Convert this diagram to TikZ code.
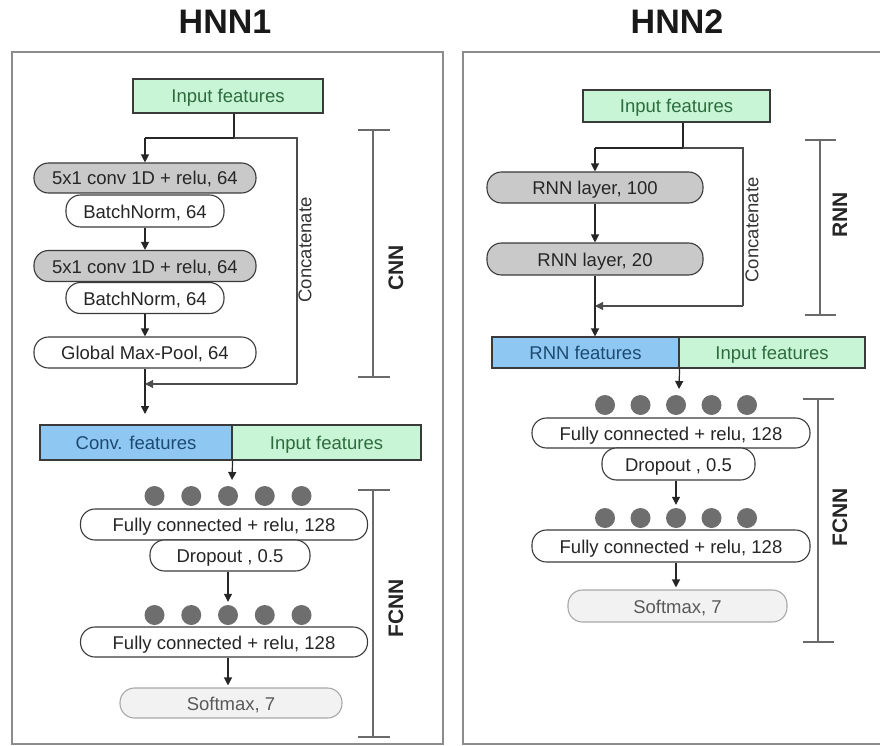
\documentclass[tikz,border=0pt]{standalone}
\usepackage{fontspec}
\setmainfont{Liberation Sans}
\usetikzlibrary{arrows.meta}
\definecolor{edge}{HTML}{3A3A3A}
\definecolor{pillgray}{HTML}{C9C9C9}
\definecolor{mint}{HTML}{C8F5D6}
\definecolor{sky}{HTML}{8EC8F2}
\definecolor{mintText}{HTML}{2E6B3E}
\definecolor{skyText}{HTML}{1C4A72}
\definecolor{dotgray}{HTML}{6E6E6E}
\definecolor{framegray}{HTML}{8C8C8C}
\definecolor{bracketgray}{HTML}{6A6A6A}
\definecolor{smgray}{HTML}{F2F2F2}
\definecolor{smedge}{HTML}{A8A8A8}
\begin{document}
\begin{tikzpicture}[x=1pt,y=-1pt,
 base/.style={font=\fontsize{18.5}{20}\selectfont, inner sep=0pt, line width=1.1pt, text height=14pt, text depth=0pt},
 pill/.style={base, draw=edge, fill=white, rounded corners=14.5pt, text=black!85},
 graypill/.style={pill, fill=pillgray},
 smpill/.style={base, draw=smedge, fill=smgray, rounded corners=14.5pt, text=black!65},
 greenbox/.style={base, draw=edge, fill=mint, text=mintText},
 bluebox/.style={base, draw=edge, fill=sky, text=skyText},
 conn/.style={line width=1.2pt, draw=black!85},
 arr/.style={conn, -{Triangle[length=8pt,width=8pt]}},
 concatline/.style={line width=1.1pt, draw=black!70},
 carr/.style={concatline, -{Triangle[length=8pt,width=8pt]}},
 neuron/.style={circle, fill=dotgray, minimum size=20pt, inner sep=0pt},
 brk/.style={line width=1.8pt, draw=bracketgray},
 brklabel/.style={rotate=90, font=\fontsize{21}{22}\selectfont\bfseries, text=black!85, inner sep=0pt},
 catlabel/.style={rotate=90, font=\fontsize{18.5}{20}\selectfont, text=black!80, inner sep=0pt},
 titlestyle/.style={font=\fontsize{34}{36}\selectfont\bfseries, text=black!90, inner sep=0pt},
 panel/.style={draw=framegray, line width=2.2pt}
]
\useasboundingbox (0,0) rectangle (880,746);

% panels and titles
\draw[panel] (12,52) rectangle (443,744);
\draw[panel] (886,52) -- (463,52) -- (463,744) -- (886,744);
\node[titlestyle] (t1) at (225,22) {HNN1};
\node[titlestyle] (t2) at (677,22) {HNN2};

% ================= HNN1 =================
\node[greenbox, minimum width=190pt, minimum height=34pt] (in1) at (228,96) {Input features};
\node[graypill, minimum width=222pt, minimum height=30pt] (c1) at (145,178) {5x1 conv 1D + relu, 64};
\node[pill, minimum width=158pt, minimum height=32pt] (b1) at (145,211) {BatchNorm, 64};
\node[graypill, minimum width=222pt, minimum height=31pt] (c2) at (145,266) {5x1 conv 1D + relu, 64};
\node[pill, minimum width=158pt, minimum height=31pt] (b2) at (145,298) {BatchNorm, 64};
\node[pill, minimum width=222pt, minimum height=31pt] (gmp) at (145,352.5) {Global Max-Pool, 64};

\coordinate (jL) at (234,138);
\coordinate (tL) at (145,138);
\coordinate (cTL) at (297,138);
\coordinate (cBL) at (297,384);
\coordinate (mL) at (145,384);
\coordinate (eL) at (145,414);

\draw[conn] (in1.south -| jL) -- (jL);
\draw[conn] (tL) -- (jL);
\draw[concatline] (jL) -- (cTL) -- (cBL);
\draw[carr] (cBL) -- (mL);
\draw[arr] (tL) -- (c1.north);
\draw[arr] (b1) -- (c2);
\draw[arr] (b2) -- (gmp);
\draw[arr] (gmp.south) -- (eL);
\node[catlabel] (catL) at (305,250) {Concatenate};

\node[bluebox, minimum width=192pt, minimum height=35pt] (cf) at (136,442.5) {Conv. features};
\node[greenbox, minimum width=189pt, minimum height=35pt] (if1) at (326.5,442.5) {Input features};
\coordinate (aL) at (232,480);
\draw[arr] (cf.south east) -- (aL);

\foreach \k [count=\i] in {-2,...,2} {
  \node[neuron] (dA\i) at ({228+36.75*\k},496) {};
  \node[neuron] (dB\i) at ({228+36.75*\k},615) {};
}
\node[pill, minimum width=287pt, minimum height=31pt] (fc1) at (224,524.5) {Fully connected + relu, 128};
\node[pill, minimum width=160pt, minimum height=31pt] (do1) at (230,555.5) {Dropout , 0.5};
\node[pill, minimum width=287pt, minimum height=30pt] (fc2) at (224,642) {Fully connected + relu, 128};
\node[smpill, minimum width=222pt, minimum height=30pt] (sm1) at (231,703) {Softmax, 7};
\draw[arr, shorten >=3pt] (do1.south -| dB3) -- (dB3.north);
\draw[arr, shorten >=2pt] (fc2.south -| dB3) -- (sm1.north -| dB3);

% brackets HNN1
\draw[brk] (373,130) -- (373,377);
\draw[brk] (358,130) -- (390,130);
\draw[brk] (358,377) -- (390,377);
\node[brklabel] (lCNN) at (396,268) {CNN};
\draw[brk] (373,490) -- (373,737);
\draw[brk] (358,490) -- (390,490);
\draw[brk] (358,737) -- (390,737);
\node[brklabel] (lF1) at (396,608) {FCNN};

% ================= HNN2 =================
\node[greenbox, minimum width=187pt, minimum height=32pt] (in2) at (676.5,106) {Input features};
\node[graypill, minimum width=216pt, minimum height=31pt] (r1) at (595,187.5) {RNN layer, 100};
\node[graypill, minimum width=216pt, minimum height=32pt] (r2) at (595,259) {RNN layer, 20};

\coordinate (jR) at (683,148);
\coordinate (tR) at (595,148);
\coordinate (cTR) at (743,148);
\coordinate (cBR) at (743,306);
\coordinate (mR) at (595,306);

\draw[conn] (in2.south -| jR) -- (jR);
\draw[conn] (tR) -- (jR);
\draw[concatline] (jR) -- (cTR) -- (cBR);
\draw[carr] (cBR) -- (mR);
\draw[arr] (tR) -- (r1.north);
\draw[arr] (r1) -- (r2);
\node[catlabel] (catR) at (752,230) {Concatenate};

\node[bluebox, minimum width=187pt, minimum height=31pt] (rf) at (585.5,352.5) {RNN features};
\node[greenbox, minimum width=186pt, minimum height=31pt] (if2) at (772,352.5) {Input features};
\draw[arr] (r2.south) -- (rf.north -| r2);
\coordinate (aR) at (679,389);
\draw[arr] (rf.south east) -- (aR);

\foreach \k [count=\i] in {-2,...,2} {
  \node[neuron] (dC\i) at ({676+35.5*\k},405) {};
  \node[neuron] (dD\i) at ({676+35.5*\k},518) {};
}
\node[pill, minimum width=278pt, minimum height=30pt] (fc3) at (671,433) {Fully connected + relu, 128};
\node[pill, minimum width=153pt, minimum height=32pt] (do2) at (678.5,464) {Dropout , 0.5};
\node[pill, minimum width=278pt, minimum height=32pt] (fc4) at (671,546) {Fully connected + relu, 128};
\node[smpill, minimum width=219pt, minimum height=32pt] (sm2) at (677.5,606) {Softmax, 7};
\draw[arr, shorten >=3pt] (do2.south -| dD3) -- (dD3.north);
\draw[arr, shorten >=2pt] (fc4.south -| dD3) -- (sm2.north -| dD3);

% brackets HNN2
\draw[brk] (820,140) -- (820,315);
\draw[brk] (805,140) -- (836,140);
\draw[brk] (805,315) -- (836,315);
\node[brklabel] (lRNN) at (840,215) {RNN};
\draw[brk] (818,399) -- (818,642);
\draw[brk] (803,399) -- (834,399);
\draw[brk] (803,642) -- (834,642);
\node[brklabel] (lF2) at (840,517) {FCNN};
\end{tikzpicture}
\end{document}
